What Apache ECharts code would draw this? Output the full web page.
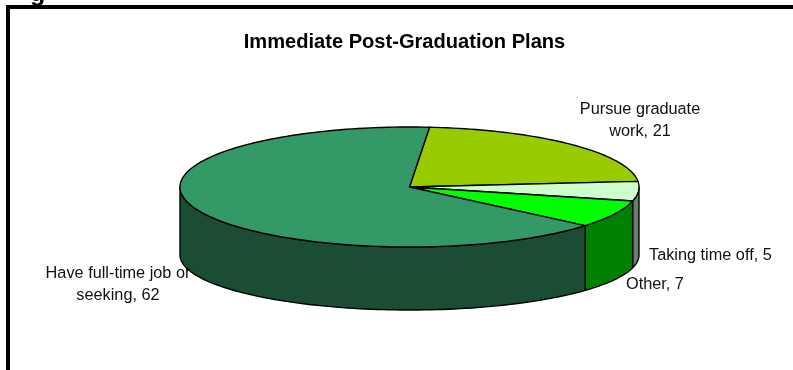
<!DOCTYPE html>
<html><head><meta charset="utf-8">
<style>html,body{margin:0;padding:0;background:#fff}#c{width:793px;height:370px}</style>
<script src="https://cdn.jsdelivr.net/npm/echarts@6/dist/echarts.min.js"></script>
</head><body><div id="c"></div>
<script>
const categories = ['Pursue graduate work', 'Taking time off', 'Other', 'Have full-time job or seeking'];
const values = [21, 5, 7, 62];
const topColors = ['#99CC00', '#CCFFCC', '#00FF00', '#339966'];
const sideColors = ['#4D6600', '#668066', '#008000', '#1A4D33'];
const titleText = 'Immediate Post-Graduation Plans';

const total = values.reduce((a, b) => a + b, 0);
const startDeg = 5;
const cx = 409.5, cy = 187, rx = 229.5, ry = 60, floorDrop = 68, floorRy = 55;
const labelLayout = [
  {x: 640, y: 120.5, align: 'center', lines: ['Pursue graduate', 'work']},
  {x: 649, y: 256, align: 'left', lines: ['Taking time off']},
  {x: 626, y: 285, align: 'left', lines: ['Other']},
  {x: 118, y: 285, align: 'center', lines: ['Have full-time job or', 'seeking']}
];
const pt = (deg, drop, radY) => {
  const a = deg * Math.PI / 180;
  return [cx + rx * Math.sin(a), cy - radY * Math.cos(a) + drop];
};
const arc = (from, to, drop, radY) => {
  const n = Math.max(2, Math.ceil(Math.abs(to - from) / 1.5));
  const out = [];
  for (let i = 0; i <= n; i++) out.push(pt(from + (to - from) * i / n, drop, radY));
  return out;
};
function renderItem(params, api) {
  const i = params.dataIndex;
  let sum = 0;
  for (let k = 0; k < i; k++) sum += values[k];
  const s = startDeg + sum / total * 360;
  const e = s + api.value(0) / total * 360;
  const children = [];
  const vs = Math.max(s, 90), ve = Math.min(e, 270);
  if (ve > vs) {
    children.push({type: 'polygon', z2: 1,
      shape: {points: arc(vs, ve, 0, ry).concat(arc(ve, vs, floorDrop, floorRy))},
      style: {fill: sideColors[i], stroke: '#000', lineWidth: 1.4, lineJoin: 'round'}});
  }
  children.push({type: 'polygon', z2: 2,
    shape: {points: [[cx, cy]].concat(arc(s, e, 0, ry))},
    style: {fill: topColors[i], stroke: '#000', lineWidth: 1.4, lineJoin: 'round'}});
  const l = labelLayout[i];
  const lines = l.lines.slice();
  lines[lines.length - 1] += ', ' + api.value(0);
  children.push({type: 'text', z2: 3,
    style: {text: lines.join('\n'), x: l.x, y: l.y, align: l.align, verticalAlign: 'middle',
      font: '16.3px "Liberation Sans", Arial, sans-serif', lineHeight: 22, fill: '#111'}});
  return {type: 'group', children};
}
const chart = echarts.init(document.getElementById('c'), null, {renderer: 'canvas'});
chart.setOption({
  animation: false,
  backgroundColor: '#fff',
  title: {text: titleText, left: 399.5, top: 27, textAlign: 'center',
    textStyle: {fontFamily: '"Liberation Sans", Arial, sans-serif', fontSize: 20.1, fontWeight: 'bold', color: '#000'}},
  graphic: [
    {type: 'rect', shape: {x: 6, y: 5, width: 787, height: 4}, style: {fill: '#000'}},
    {type: 'rect', shape: {x: 6, y: 5, width: 4, height: 365}, style: {fill: '#000'}},
    {type: 'text', style: {text: 'g', x: 30, y: -18.5, font: 'bold 25px "Liberation Sans", Arial, sans-serif', fill: '#000'}}
  ],
  series: [{type: 'custom', coordinateSystem: 'none', renderItem,
    data: values.map((v, i) => ({name: categories[i], value: [v]}))}]
});
</script></body></html>
